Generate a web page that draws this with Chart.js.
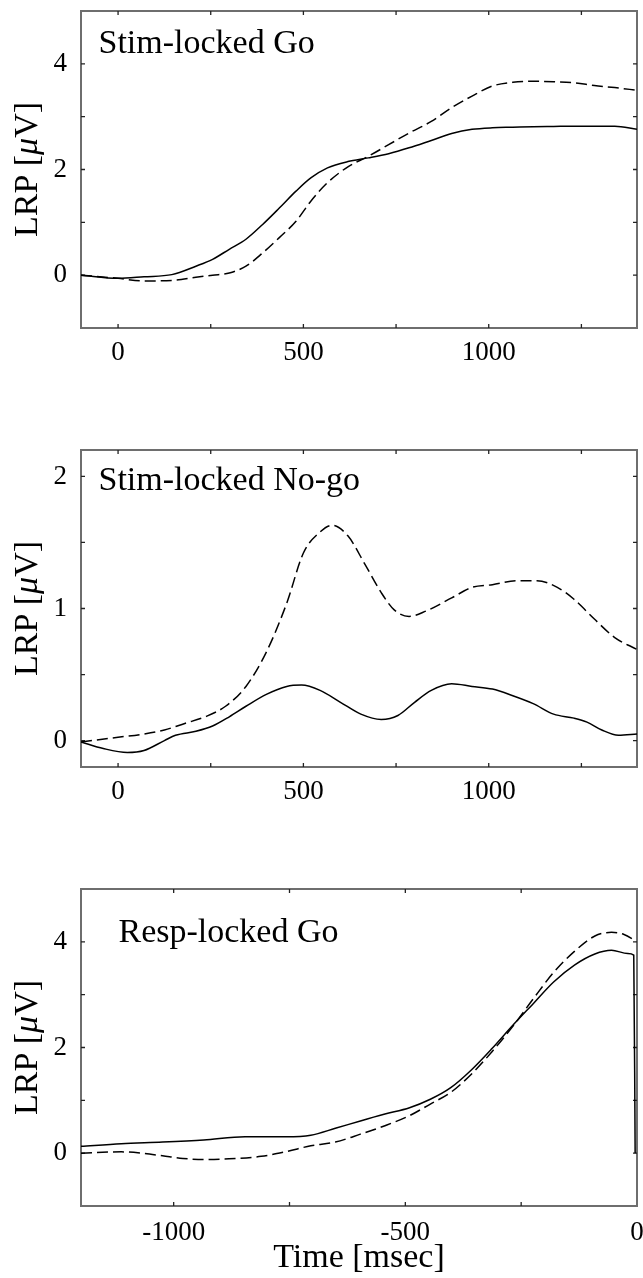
<!DOCTYPE html>
<html>
<head>
<meta charset="utf-8">
<script src="https://cdn.jsdelivr.net/npm/chart.js@4.4.0/dist/chart.umd.min.js"></script>
<style>
  html, body { margin: 0; padding: 0; background: #fff; }
  #wrap { position: relative; width: 643px; height: 1278px; overflow: hidden; }
  canvas { position: absolute; left: 0; }
</style>
</head>
<body>
<div id="wrap">
  <canvas id="c1" width="643" height="380" style="top:0px;width:643px;height:380px"></canvas>
  <canvas id="c2" width="643" height="380" style="top:420px;width:643px;height:380px"></canvas>
  <canvas id="c3" width="643" height="418" style="top:860px;width:643px;height:418px"></canvas>
</div>
<script>
// ---------- Data ----------
// Panel 1: Stim-locked Go
const goStimX      = [-100, 0, 70, 145, 210, 255, 300, 345, 390, 435, 480, 520, 565, 620, 675, 730, 785, 845, 900, 955, 1010, 1065, 1120, 1175, 1230, 1285, 1340, 1400];
const goStimSolid  = [0, -0.06, -0.03, 0.01, 0.17, 0.30, 0.49, 0.68, 0.96, 1.27, 1.59, 1.84, 2.03, 2.15, 2.22, 2.30, 2.41, 2.55, 2.68, 2.76, 2.79, 2.80, 2.81, 2.815, 2.82, 2.82, 2.82, 2.76];
const goStimDashed = [0, -0.06, -0.11, -0.10, -0.04, 0, 0.04, 0.17, 0.42, 0.71, 1.02, 1.40, 1.75, 2.05, 2.25, 2.47, 2.69, 2.91, 3.17, 3.39, 3.58, 3.65, 3.67, 3.66, 3.64, 3.59, 3.55, 3.50];

// Panel 2: Stim-locked No-go
const nogoSolidX   = [-100, -40, 25, 70, 125, 155, 210, 255, 300, 345, 400, 455, 495, 545, 600, 655, 710, 755, 800, 845, 900, 955, 1010, 1065, 1120, 1175, 1230, 1265, 1305, 1350, 1400];
const nogoSolid    = [-0.01, -0.06, -0.09, -0.075, 0, 0.04, 0.07, 0.11, 0.18, 0.26, 0.35, 0.41, 0.42, 0.38, 0.29, 0.20, 0.16, 0.19, 0.29, 0.38, 0.43, 0.41, 0.39, 0.34, 0.28, 0.20, 0.17, 0.14, 0.08, 0.04, 0.05];
const nogoDashedX  = [-100, 0, 70, 125, 180, 235, 290, 345, 400, 455, 500, 545, 577, 620, 665, 710, 745, 785, 830, 900, 955, 1010, 1075, 1130, 1185, 1230, 1285, 1340, 1400];
const nogoDashed   = [-0.01, 0.025, 0.05, 0.08, 0.13, 0.18, 0.26, 0.41, 0.67, 1.04, 1.42, 1.58, 1.63, 1.55, 1.34, 1.12, 0.99, 0.94, 0.98, 1.08, 1.16, 1.18, 1.21, 1.21, 1.16, 1.07, 0.92, 0.78, 0.69];

// Panel 3: Resp-locked Go
const respSolidX   = [-1200, -1113, -1024, -935, -846, -757, -704, -651, -597, -544, -491, -446, -402, -357, -313, -268, -224, -180, -135, -91, -55, -20, -7, -4];
const respSolid    = [0.13, 0.18, 0.21, 0.25, 0.31, 0.31, 0.34, 0.47, 0.61, 0.74, 0.86, 1.02, 1.24, 1.58, 1.98, 2.42, 2.83, 3.24, 3.56, 3.77, 3.84, 3.78, 3.75, 0];
const respDashedX  = [-1200, -1113, -1069, -1024, -980, -935, -891, -811, -757, -704, -651, -597, -544, -491, -446, -402, -357, -313, -268, -224, -180, -135, -91, -55, -28, -2];
const respDashed   = [0, 0.025, 0, -0.05, -0.1, -0.12, -0.11, -0.06, 0.03, 0.14, 0.21, 0.36, 0.52, 0.71, 0.93, 1.15, 1.50, 1.92, 2.40, 2.92, 3.42, 3.82, 4.11, 4.18, 4.14, 4.01];

// Axis ranges, tick positions and labelled ticks
const stimXRange = [-100, 1400];
const respXRange = [-1200, 0];
const goYRange   = [-1, 5];
const nogoYRange = [-0.2, 2.2];
const stimXTicks = [0, 250, 500, 750, 1000, 1250];
const stimXLabels = [0, 500, 1000];
const respXTicks = [-1000, -750, -500, -250, 0];
const respXLabels = [-1000, -500, 0];
const goYTicks   = [-1, 0, 1, 2, 3, 4, 5];
const goYLabels  = [0, 2, 4];
const nogoYTicks = [0, 0.5, 1, 1.5, 2];
const nogoYLabels = [0, 1, 2];
const panelTitles = ['Stim-locked Go', 'Stim-locked No-go', 'Resp-locked Go'];
const yAxisLabel = ['LRP [', 'μ', 'V]'];
const xAxisLabel = 'Time [msec]';

// ---------- Rendering ----------
const SERIF = "'Liberation Serif', 'Times New Roman', serif";
Chart.defaults.font.family = SERIF;
Chart.defaults.color = '#000';

function pts(xs, ys) { return xs.map((x, i) => ({ x: x, y: ys[i] })); }

const framePlugin = {
  id: 'frame',
  beforeDatasetsDraw(chart) {
    const ctx = chart.ctx, a = chart.chartArea;
    const xs = chart.scales.x, ys = chart.scales.y;
    ctx.save();
    ctx.strokeStyle = '#6e6e6e';
    ctx.lineWidth = 2;
    ctx.strokeRect(a.left, a.top, a.right - a.left, a.bottom - a.top);
    ctx.strokeStyle = '#222';
    ctx.lineWidth = 1.3;
    ctx.beginPath();
    xs.ticks.forEach(t => {
      const p = xs.getPixelForValue(t.value);
      if (p <= a.left + 2 || p >= a.right - 2) return;
      ctx.moveTo(p, a.bottom); ctx.lineTo(p, a.bottom - 4);
      ctx.moveTo(p, a.top); ctx.lineTo(p, a.top + 4);
    });
    ys.ticks.forEach(t => {
      const p = ys.getPixelForValue(t.value);
      if (p <= a.top + 2 || p >= a.bottom - 2) return;
      ctx.moveTo(a.left, p); ctx.lineTo(a.left + 4, p);
      ctx.moveTo(a.right, p); ctx.lineTo(a.right - 4, p);
    });
    ctx.stroke();
    ctx.restore();
  },
  afterDraw(chart, args, opts) {
    const ctx = chart.ctx, a = chart.chartArea;
    ctx.save();
    ctx.fillStyle = '#000';
    ctx.font = '34px ' + SERIF;
    ctx.textAlign = 'left';
    ctx.textBaseline = 'alphabetic';
    ctx.fillText(opts.title, opts.titleX, opts.titleY);
    const fN = '34px ' + SERIF, fI = 'italic 34px ' + SERIF;
    ctx.font = fN; const w0 = ctx.measureText(yAxisLabel[0]).width;
    ctx.font = fI; const w1 = ctx.measureText(yAxisLabel[1]).width;
    ctx.font = fN; const w2 = ctx.measureText(yAxisLabel[2]).width;
    const total = w0 + w1 + w2;
    ctx.translate(37, (a.top + a.bottom) / 2);
    ctx.rotate(-Math.PI / 2);
    let sx = -total / 2;
    ctx.font = fN; ctx.fillText(yAxisLabel[0], sx, 0); sx += w0;
    ctx.font = fI; ctx.fillText(yAxisLabel[1], sx, 0); sx += w1;
    ctx.font = fN; ctx.fillText(yAxisLabel[2], sx, 0);
    ctx.setTransform(1, 0, 0, 1, 0, 0);
    if (opts.xLabel) {
      ctx.font = '34px ' + SERIF;
      ctx.textAlign = 'center';
      ctx.fillText(opts.xLabel, (a.left + a.right) / 2, opts.xLabelY);
    }
    ctx.restore();
  }
};

function makeChart(id, cfg) {
  const canvas = document.getElementById(id);
  const H = canvas.height;
  return new Chart(canvas, {
    type: 'line',
    data: {
      datasets: [
        { data: pts(cfg.sx, cfg.sy), borderColor: '#000', borderWidth: 1.5, pointRadius: 0,
          cubicInterpolationMode: 'monotone', fill: false },
        { data: pts(cfg.dx, cfg.dy), borderColor: '#000', borderWidth: 1.5, pointRadius: 0,
          borderDash: [11, 5], cubicInterpolationMode: 'monotone', fill: false }
      ]
    },
    options: {
      responsive: false,
      animation: false,
      events: [],
      layout: { padding: { top: cfg.top, right: 6, left: 0, bottom: 0 } },
      plugins: {
        legend: { display: false },
        tooltip: { enabled: false },
        frame: { title: cfg.title, titleX: cfg.titleX, titleY: cfg.titleY, xLabel: cfg.xLabel, xLabelY: cfg.xLabelY }
      },
      scales: {
        x: {
          type: 'linear', min: cfg.xr[0], max: cfg.xr[1],
          grid: { display: false, drawTicks: false },
          border: { display: false },
          afterBuildTicks: s => { s.ticks = cfg.xt.map(v => ({ value: v })); },
          ticks: {
            autoSkip: false, maxRotation: 0, minRotation: 0, padding: cfg.xPad,
            font: { size: 27, family: SERIF }, color: '#000',
            callback: v => (cfg.xl.includes(v) ? String(v) : '')
          },
          afterFit: s => { s.height = H - cfg.bottom; s.paddingLeft = 0; s.paddingRight = 0; }
        },
        y: {
          type: 'linear', min: cfg.yr[0], max: cfg.yr[1],
          grid: { display: false, drawTicks: false },
          border: { display: false },
          afterBuildTicks: s => { s.ticks = cfg.yt.map(v => ({ value: v })); },
          ticks: {
            autoSkip: false, padding: 14,
            font: { size: 27, family: SERIF }, color: '#000',
            callback: v => (cfg.yl.includes(v) ? String(v) : '')
          },
          afterFit: s => { s.width = 81; s.paddingTop = 0; s.paddingBottom = 0; }
        }
      }
    },
    plugins: [framePlugin]
  });
}

makeChart('c1', {
  sx: goStimX, sy: goStimSolid, dx: goStimX, dy: goStimDashed,
  xr: stimXRange, yr: goYRange, xt: stimXTicks, xl: stimXLabels, yt: goYTicks, yl: goYLabels,
  top: 11, bottom: 328, xPad: 9, title: panelTitles[0], titleX: 98.5, titleY: 53
});
makeChart('c2', {
  sx: nogoSolidX, sy: nogoSolid, dx: nogoDashedX, dy: nogoDashed,
  xr: stimXRange, yr: nogoYRange, xt: stimXTicks, xl: stimXLabels, yt: nogoYTicks, yl: nogoYLabels,
  top: 30, bottom: 347, xPad: 9, title: panelTitles[1], titleX: 98.5, titleY: 70
});
makeChart('c3', {
  sx: respSolidX, sy: respSolid, dx: respDashedX, dy: respDashed,
  xr: respXRange, yr: goYRange, xt: respXTicks, xl: respXLabels, yt: goYTicks, yl: goYLabels,
  top: 29, bottom: 346, xPad: 11, title: panelTitles[2], titleX: 118.5, titleY: 82,
  xLabel: xAxisLabel, xLabelY: 407
});
</script>
</body>
</html>
